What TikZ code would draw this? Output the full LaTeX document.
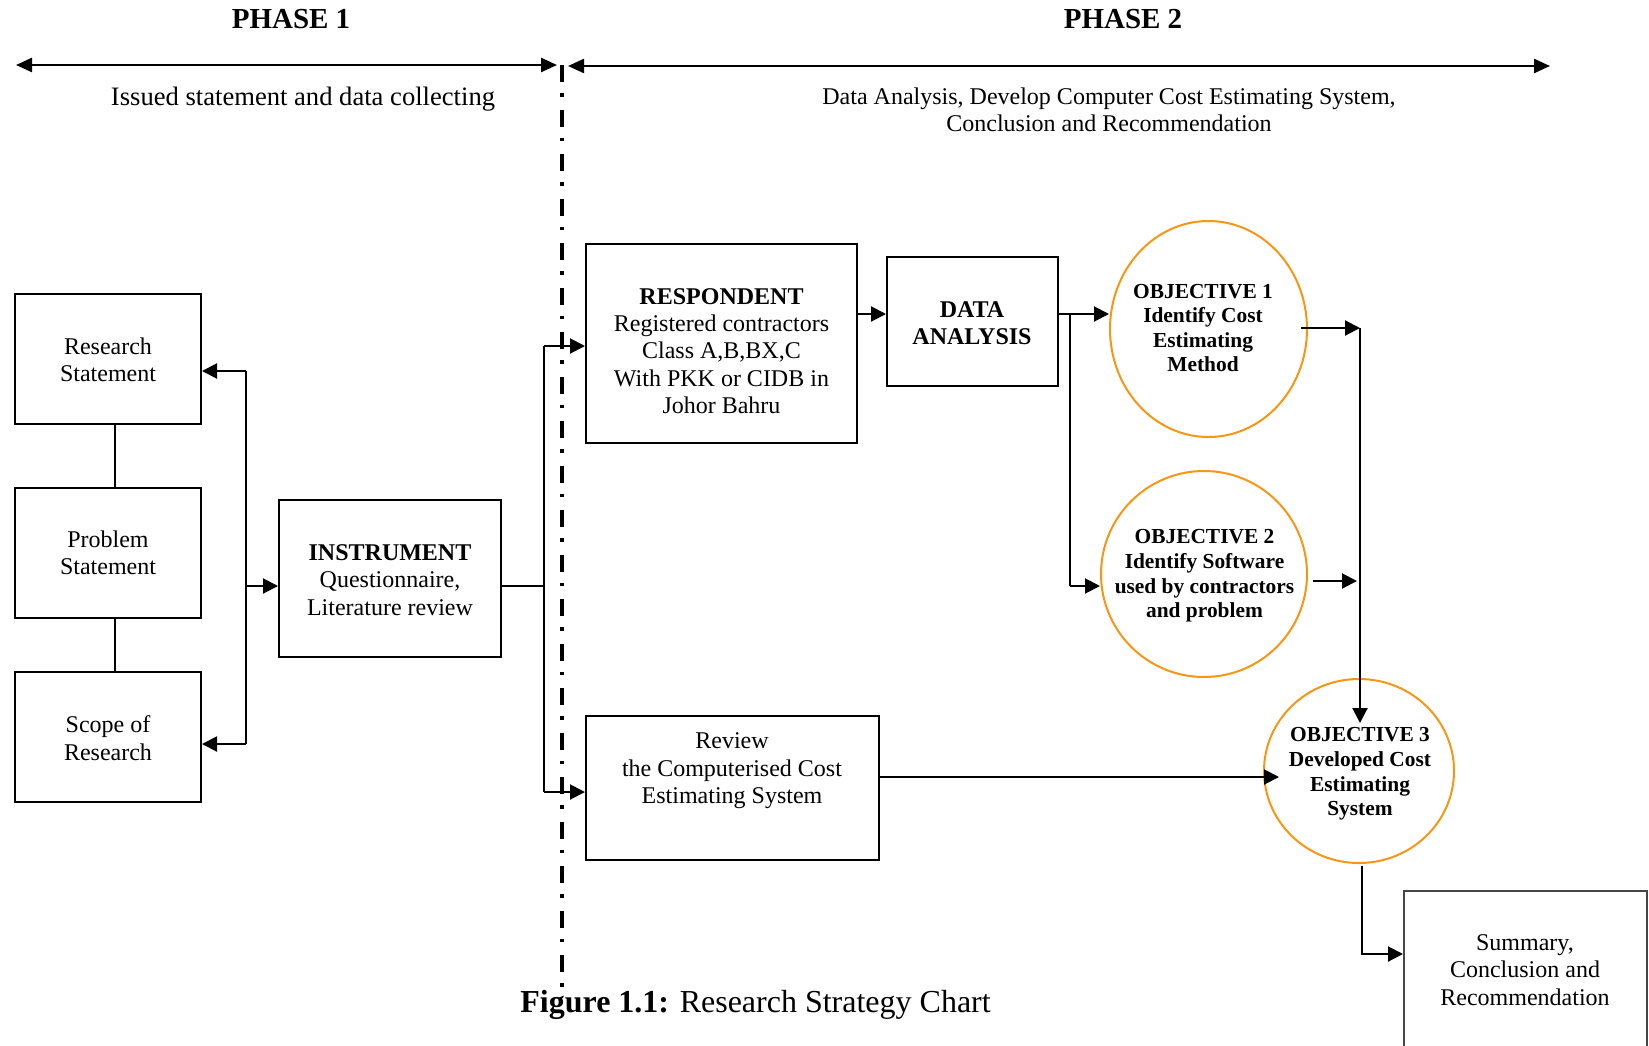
\documentclass[tikz,border=0pt]{standalone}
\usepackage{fontspec}
\setmainfont{Liberation Serif}
\usetikzlibrary{arrows.meta,shapes.geometric}
\definecolor{objorange}{RGB}{247,150,20}
\definecolor{sumgray}{RGB}{70,70,70}
\begin{document}
\begin{tikzpicture}[x=0.5pt,y=-0.5pt,
  boxnode/.style={draw=black,line width=1pt,rectangle,inner sep=0pt},
  objnode/.style={draw=objorange,line width=1pt,ellipse,inner sep=0pt},
  txt/.style={align=center,inner sep=0pt,font=\fontsize{12}{13.7}\selectfont},
  objtxt/.style={align=center,inner sep=0pt,font=\fontsize{10.7}{12.3}\selectfont\bfseries},
  phasetxt/.style={inner sep=0pt,font=\fontsize{14.5}{16}\selectfont\bfseries},
  conn/.style={line width=1pt},
  arr/.style={line width=1pt,-{Triangle[length=7.5pt,width=7.5pt]}},
  phasearr/.style={line width=1.2pt,{Triangle[length=8pt,width=7pt]}-{Triangle[length=8pt,width=7pt]}},
  dashdotline/.style={line width=1.65pt,dash pattern=on 8.5pt off 5.5pt on 1.75pt off 6.5pt}
]
\useasboundingbox (0,0) rectangle (1649,1045);

% ---------- header ----------
\node[phasetxt] (ph1) at (291,19) {PHASE 1};
\node[phasetxt] (ph2) at (1123,19) {PHASE 2};
\coordinate (p1l) at (16,65);
\coordinate (p1r) at (557,65);
\coordinate (p2l) at (568,66);
\coordinate (p2r) at (1550,66);
\draw[phasearr] (p1l) -- (p1r);
\draw[phasearr] (p2l) -- (p2r);
\node[inner sep=0pt,font=\fontsize{13.3}{15}\selectfont] (d1) at (303,99) {Issued statement and data collecting};
\node[align=center,inner sep=0pt,font=\fontsize{12}{13.7}\selectfont] (d2) at (1109,110)
  {Data Analysis, Develop Computer Cost Estimating System,\\Conclusion and Recommendation};

% ---------- dash-dot divider ----------
\coordinate (dvt) at (562,65);
\coordinate (dvb) at (562,997);
\draw[dashdotline] (dvt) -- (dvb);

% ---------- left column ----------
\node[boxnode,minimum width=93pt,minimum height=65pt] (rs) at (108,359) {};
\node[boxnode,minimum width=93pt,minimum height=65pt] (ps) at (108,553) {};
\node[boxnode,minimum width=93pt,minimum height=65pt] (sc) at (108,737) {};
\node[txt] (rst) at (108,360) {Research\\Statement};
\node[txt] (pst) at (108,553) {Problem\\Statement};
\node[txt] (sct) at (108,738) {Scope of\\Research};
\draw[conn] ([xshift=3.5pt]rs.south) -- ([xshift=3.5pt]ps.north);
\draw[conn] ([xshift=3.5pt]ps.south) -- ([xshift=3.5pt]sc.north);

\node[boxnode,minimum width=111pt,minimum height=78.5pt] (ins) at (390,578.5) {};
\node[txt] (inst) at (390,580) {\textbf{INSTRUMENT}\\Questionnaire,\\Literature review};

\coordinate (b1) at (246,371);
\coordinate (b2) at (246,744);
\coordinate (bm) at (246,586);
\draw[conn] (b1) -- (b2);
\draw[arr] (b1) -- (b1 -| rs.east);
\draw[arr] (b2) -- (b2 -| sc.east);
\draw[arr] (bm) -- (bm -| ins.west);

% ---------- instrument split ----------
\coordinate (j1) at (544,586);
\coordinate (j2) at (544,346);
\coordinate (j3) at (544,792);
\draw[conn] (ins.east |- j1) -- (j1);
\draw[conn] (j2) -- (j3);

\node[boxnode,minimum width=135.5pt,minimum height=99.5pt] (resp) at (721.5,343.5) {};
\node[txt] (respt) at (721.5,351) {\textbf{RESPONDENT}\\Registered contractors\\Class A,B,BX,C\\With PKK or CIDB in\\Johor Bahru};
\node[boxnode,minimum width=146.5pt,minimum height=72pt] (rev) at (732.5,788) {};
\node[txt] (revt) at (732,771) {Review\\the Computerised Cost\\Estimating System};
\draw[arr] (j2) -- (j2 -| resp.west);
\draw[arr] (j3) -- (j3 -| rev.west);

% ---------- data analysis ----------
\node[boxnode,minimum width=85.5pt,minimum height=64.5pt] (da) at (972.5,321.5) {};
\node[txt,font=\fontsize{12}{13.7}\selectfont\bfseries] (dat) at (972,323) {DATA\\ANALYSIS};
\coordinate (k1) at (1070,314);
\coordinate (k2) at (1070,586);
\draw[arr] (resp.east |- k1) -- (da.west |- k1);

% ---------- objectives ----------
\node[objnode,minimum width=98.5pt,minimum height=108pt] (o1) at (1208.5,329) {};
\node[objnode,minimum width=103pt,minimum height=103pt] (o2) at (1204,574) {};
\node[objnode,minimum width=95pt,minimum height=92pt] (o3) at (1359,771) {};
\node[objtxt] (o1t) at (1203,328) {OBJECTIVE 1\\Identify Cost\\Estimating\\Method};
\node[objtxt] (o2t) at (1204.5,576) {OBJECTIVE 2\\Identify Software\\used by contractors\\and problem};
\node[objtxt] (o3t) at (1360,774) {OBJECTIVE 3\\Developed Cost\\Estimating\\System};

\draw[conn] (da.east |- k1) -- (k1);
\draw[arr] (k1) -- (k1 -| o1.west);
\draw[conn] (k1) -- (k2);
\draw[arr] (k2) -- (k2 -| o2.west);

\coordinate (m1) at (1301,328);
\coordinate (m2) at (1360,328);
\coordinate (m3) at (1360,723);
\draw[arr] (m1) -- (m2);
\draw[arr] (m2) -- (m3);
\coordinate (n1) at (1313,581);
\coordinate (n2) at (1357,581);
\draw[arr] (n1) -- (n2);

\coordinate (r1) at (1279,777);
\draw[arr] (rev.east |- r1) -- (r1);

% ---------- summary ----------
\node[boxnode,draw=sumgray,minimum width=121.5pt,minimum height=104.5pt] (sum) at (1525.5,995.5) {};
\node[txt] (sumt) at (1525,970) {Summary,\\Conclusion and\\Recommendation};
\coordinate (q1) at (1362,866);
\coordinate (q2) at (1362,954);
\draw[arr] (q1) -- (q2) -- (q2 -| sum.west);

% ---------- caption ----------
\node[anchor=base west,inner sep=0pt,font=\fontsize{16}{18}\selectfont] (cap) at (520,1012)
  {\textbf{Figure 1.1:} Research Strategy Chart};
\end{tikzpicture}
\end{document}
